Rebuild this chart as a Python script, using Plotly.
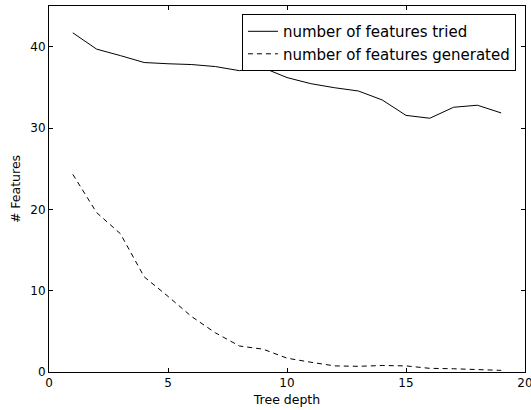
import plotly.graph_objects as go

depth = list(range(1, 20))
features_tried = [41.7, 39.7, 38.9, 38.05, 37.9, 37.8, 37.55, 37.05, 37.4, 36.2,
                  35.45, 34.95, 34.55, 33.45, 31.55, 31.2, 32.55, 32.8, 31.85]
features_generated = [24.3, 19.6, 17.0, 11.7, 9.3, 6.8, 4.8, 3.2, 2.8, 1.7,
                      1.2, 0.75, 0.7, 0.8, 0.75, 0.45, 0.4, 0.3, 0.2]

x_ticks = [0, 5, 10, 15, 20]
y_ticks = [0, 10, 20, 30, 40]

fig = go.Figure()
fig.add_trace(go.Scatter(x=depth, y=features_tried, mode="lines",
                         name="number of features tried",
                         line=dict(color="black", width=1)))
fig.add_trace(go.Scatter(x=depth, y=features_generated, mode="lines",
                         name="number of features generated",
                         line=dict(color="black", width=1, dash="5px,4px")))

axis_common = dict(showgrid=False, zeroline=False, showline=True, linecolor="black",
                   linewidth=1, mirror="ticks", ticks="inside", ticklen=4,
                   tickcolor="black", tickwidth=1, automargin=False,
                   ticklabeloverflow="allow",
                   tickfont=dict(family="DejaVu Sans", size=12, color="black"))

fig.update_xaxes(range=[0, 20], tickvals=x_ticks, ticktext=[str(v) for v in x_ticks],
                 title=dict(text="Tree depth", standoff=5,
                            font=dict(family="DejaVu Sans", size=12.5, color="black")),
                 **axis_common)
fig.update_yaxes(range=[0, 45], tickvals=y_ticks, ticktext=[str(v) for v in y_ticks],
                 title=dict(text="# Features", standoff=6,
                            font=dict(family="DejaVu Sans", size=12.5, color="black")),
                 **axis_common)

fig.update_layout(
    width=531, height=410,
    margin=dict(l=49, r=6, t=6, b=38),
    paper_bgcolor="white", plot_bgcolor="white",
    font=dict(family="DejaVu Sans", color="black"),
    legend=dict(x=0.981, y=0.978, xanchor="right", yanchor="top",
                bordercolor="black", borderwidth=1, bgcolor="white",
                font=dict(family="DejaVu Sans", size=15, color="black"),
                tracegroupgap=0),
    showlegend=True,
)

fig.write_html("out.html", config={"displayModeBar": False},
               post_script="document.body.style.margin='0';")
